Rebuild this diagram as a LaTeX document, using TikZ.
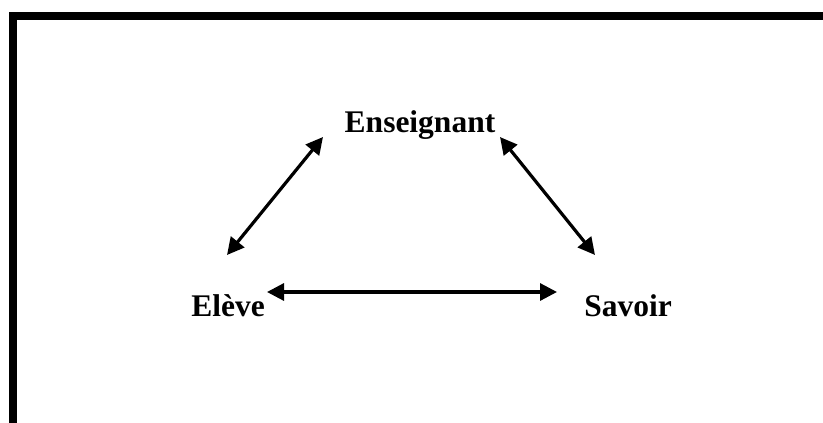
\documentclass[tikz,border=0pt]{standalone}
\usepackage{fontspec}
\setmainfont{Liberation Serif}
\usetikzlibrary{positioning}
\usetikzlibrary{arrows.meta}

\begin{document}
\begin{tikzpicture}[x=1pt, y=-1pt,
    term/.style = {anchor=base, inner sep=0pt, font=\fontsize{31.5}{36}\selectfont\bfseries},
    link/.style = {line width=3.2pt, {Triangle[length=17pt,width=17pt]}-{Triangle[length=17pt,width=17pt]}}]
    \useasboundingbox (0,0) rectangle (823,423);

    % frame
    \draw[line width=8pt, miter limit=10] (13,423) -- (13,16) -- (823,16);

    \node[term] (E) at (420,132) {Enseignant};
    \node[term] (L) at (228,316) {Elève};
    \node[term] (S) at (628,316) {Savoir};

    \coordinate (el) at (227,255);
    \coordinate (le) at (323,137);
    \coordinate (es) at (500,137);
    \coordinate (se) at (595,255);
    \coordinate (ls) at (267,292);
    \coordinate (sl) at (557,292);

    \draw[link] (el) -- (le);
    \draw[link] (es) -- (se);
    \draw[link] (ls) -- (sl);

\end{tikzpicture}
\end{document}
